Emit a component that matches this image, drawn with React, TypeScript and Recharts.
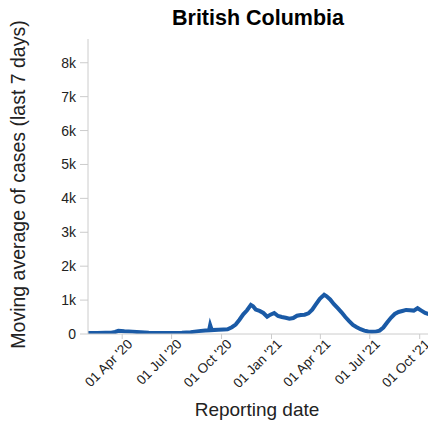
import React from "react";
import { LineChart, Line, XAxis, YAxis, Label } from "recharts";

const reportDates = [
  "2020-01-29", "2020-02-15", "2020-03-01", "2020-03-12", "2020-03-19", "2020-03-25",
  "2020-04-05", "2020-04-20", "2020-05-05", "2020-05-20", "2020-06-10", "2020-07-01",
  "2020-07-20", "2020-08-05", "2020-08-20", "2020-09-01", "2020-09-08", "2020-09-10",
  "2020-09-13", "2020-09-25", "2020-10-05", "2020-10-12", "2020-10-20", "2020-10-27",
  "2020-11-03", "2020-11-10", "2020-11-17", "2020-11-24", "2020-11-28", "2020-12-03",
  "2020-12-10", "2020-12-17", "2020-12-24", "2020-12-30", "2021-01-06", "2021-01-13",
  "2021-01-20", "2021-01-27", "2021-02-03", "2021-02-10", "2021-02-17", "2021-02-24",
  "2021-03-03", "2021-03-10", "2021-03-17", "2021-03-24", "2021-03-31", "2021-04-08",
  "2021-04-12", "2021-04-19", "2021-04-26", "2021-05-03", "2021-05-10", "2021-05-17",
  "2021-05-24", "2021-05-31", "2021-06-07", "2021-06-14", "2021-06-21", "2021-06-28",
  "2021-07-05", "2021-07-12", "2021-07-19", "2021-07-26", "2021-08-02", "2021-08-09",
  "2021-08-16", "2021-08-23", "2021-08-30", "2021-09-06", "2021-09-13", "2021-09-20",
  "2021-09-27", "2021-10-04", "2021-10-11", "2021-10-18", "2021-10-24",
];

const movingAverage = [
  30, 30, 35, 40, 60, 95,
  80, 70, 50, 35, 30, 30,
  40, 55, 85, 100, 110, 260,
  115, 125, 135, 140, 200, 280,
  420, 580, 700, 860, 820, 720,
  680, 620, 510, 570, 620, 530,
  500, 480, 450, 470, 540, 560,
  570, 610, 720, 880, 1040, 1160,
  1120, 1020, 880, 760, 640, 500,
  380, 270, 200, 140, 100, 75,
  65, 70, 100, 190, 340, 480,
  590, 650, 680, 710, 700, 690,
  760, 690, 620, 580, 560,
];

const yTicks = [0, 1000, 2000, 3000, 4000, 5000, 6000, 7000, 8000];
const xTickDates = ["2020-04-01", "2020-07-01", "2020-10-01", "2021-01-01", "2021-04-01", "2021-07-01", "2021-10-01"];

const months = ["Jan", "Feb", "Mar", "Apr", "May", "Jun", "Jul", "Aug", "Sep", "Oct", "Nov", "Dec"];
const toTime = (s: string) => Date.parse(s + "T00:00:00Z");

const data = reportDates.map((d, i) => ({ date: toTime(d), value: movingAverage[i] }));

const fmtDate = (t: number) => {
  const d = new Date(t);
  const day = String(d.getUTCDate()).padStart(2, "0");
  return `${day} ${months[d.getUTCMonth()]} '${String(d.getUTCFullYear()).slice(2)}`;
};

const fmtY = (v: number) => (v === 0 ? "0" : `${v / 1000}k`);

const FONT = "'Liberation Sans', Arial, sans-serif";

const XTick = (props: any) => {
  const { x, y, payload } = props;
  return (
    <g transform={`translate(${x + 11},${y + 6})`}>
      <text x={0} y={0} textAnchor="end" transform="rotate(-45)" fontSize={13.5} fill="#222" fontFamily={FONT}>
        {fmtDate(payload.value)}
      </text>
    </g>
  );
};

export default function App() {
  return (
    <div style={{ position: "absolute", left: 0, top: 0, width: 428, height: 428, overflow: "hidden", background: "#fff", fontFamily: FONT }}>
      <div style={{ position: "absolute", left: 0, width: 516, top: 5, textAlign: "center", fontSize: 21.5, fontWeight: "bold", color: "#000", lineHeight: "26px" }}>
        British Columbia
      </div>
      <LineChart
        width={436}
        height={428}
        data={data}
        margin={{ top: 39, right: 0, bottom: 0, left: 0 }}
        style={{ fontFamily: FONT }}
      >
        <XAxis
          dataKey="date"
          type="number"
          scale="time"
          domain={[toTime("2020-01-29"), toTime("2021-10-31")]}
          ticks={xTickDates.map(toTime)}
          interval={0}
          tick={<XTick />}
          tickSize={5}
          tickMargin={0}
          height={94}
          stroke="#ccc"
          tickLine={{ stroke: "#ccc" }}
          allowDataOverflow
        >
          <Label value="Reporting date" position="insideBottom" offset={12} dx={-5} fontSize={19} fill="#222" fontFamily={FONT} />
        </XAxis>
        <YAxis
          type="number"
          domain={[0, 8700]}
          ticks={yTicks}
          interval={0}
          tickFormatter={fmtY}
          width={88}
          tickSize={8}
          tickMargin={4}
          stroke="#ccc"
          tick={{ fontSize: 14, fill: "#222", fontFamily: FONT }}
          allowDataOverflow
        >
          <Label
            value="Moving average of cases (last 7 days)"
            angle={-90}
            position="insideLeft"
            offset={18}
            dy={-2}
            style={{ textAnchor: "middle" }}
            fontSize={19.5}
            fill="#222"
            fontFamily={FONT}
          />
        </YAxis>
        <Line
          type="linear"
          dataKey="value"
          stroke="#1a5aa6"
          strokeWidth={4}
          dot={false}
          isAnimationActive={false}
        />
      </LineChart>
    </div>
  );
}
